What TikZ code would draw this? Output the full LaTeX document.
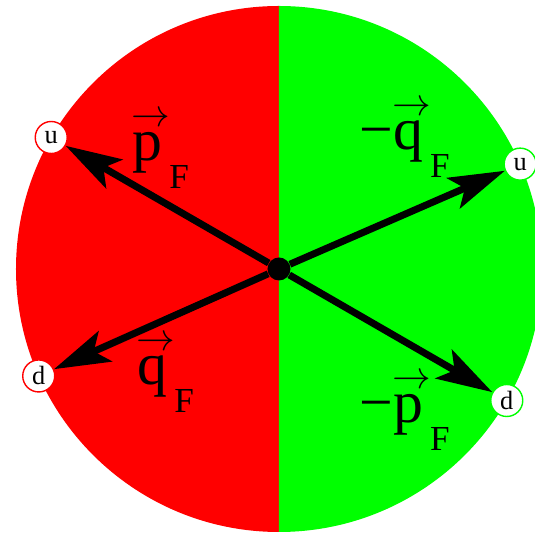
\RequirePackage{fix-cm}
\documentclass[tikz,border=0pt]{standalone}
\usepackage{fontspec}
\setmainfont{Liberation Serif}
\usepackage{graphicx}
\usetikzlibrary{arrows.meta}
\definecolor{hemired}{RGB}{255,0,0}
\definecolor{hemigreen}{RGB}{0,255,0}
% letter with a vector arrow and a lowered F
\newcommand{\fermivec}[2]{#1\sbox0{#2}\makebox[0pt][l]{\makebox[\wd0]{\hspace{0.12em}%
  \raisebox{0.58em}{\fontsize{22}{22}\selectfont$\rightarrow$}}}\usebox0%
  \hspace{0.12em}\raisebox{-0.46em}{\fontsize{20}{20}\selectfont F}}

\begin{document}
\begin{tikzpicture}[
  quark/.style={circle,draw,line width=0.8pt,fill=white,minimum size=0.64cm,inner sep=0pt,
    font=\fontsize{15}{15}\selectfont},
  momentum/.style={line width=0.14cm,-{Stealth[length=1.12cm,width=0.66cm,inset=0.25cm]}},
  veclabel/.style={font=\fontsize{34}{38}\selectfont,inner sep=0pt,anchor=base west}
]
  \useasboundingbox (-5.58,-5.28) rectangle (5.12,5.38);
  % Hemispheres
  \fill[hemired] (0,-5.26) arc (270:90:5.26) -- cycle;
  \fill[hemigreen] (0,5.26) arc (90:-90:5.26) -- cycle;

  % Vertex
  \node[circle,fill=black,minimum size=0.46cm,inner sep=0pt] (o) at (0,0) {};

  % Quarks on the rim
  \node[quark,draw=hemired] (ul) at (150:5.26) {u};
  \node[quark,draw=hemired] (dl) at (204:5.26) {d};
  \node[quark,draw=hemigreen] (ur) at (23.5:5.26) {u};
  \node[quark,draw=hemigreen] (dr) at (-30:5.26) {d};

  % Momenta
  \draw[momentum] (o) -- (ul);
  \draw[momentum] (o) -- (dl);
  \draw[momentum] (o) -- (ur);
  \draw[momentum] (o) -- (dr);

  % Labels
  \node[veclabel] (pl) at (-2.94,2.16) {\fermivec{}{p}};
  \node[veclabel] (qr) at (1.60,2.38) {\fermivec{−}{q}};
  \node[veclabel] (ql) at (-2.84,-2.32) {\fermivec{}{q}};
  \node[veclabel] (pr) at (1.60,-3.08) {\fermivec{−}{p}};
\end{tikzpicture}
\end{document}
